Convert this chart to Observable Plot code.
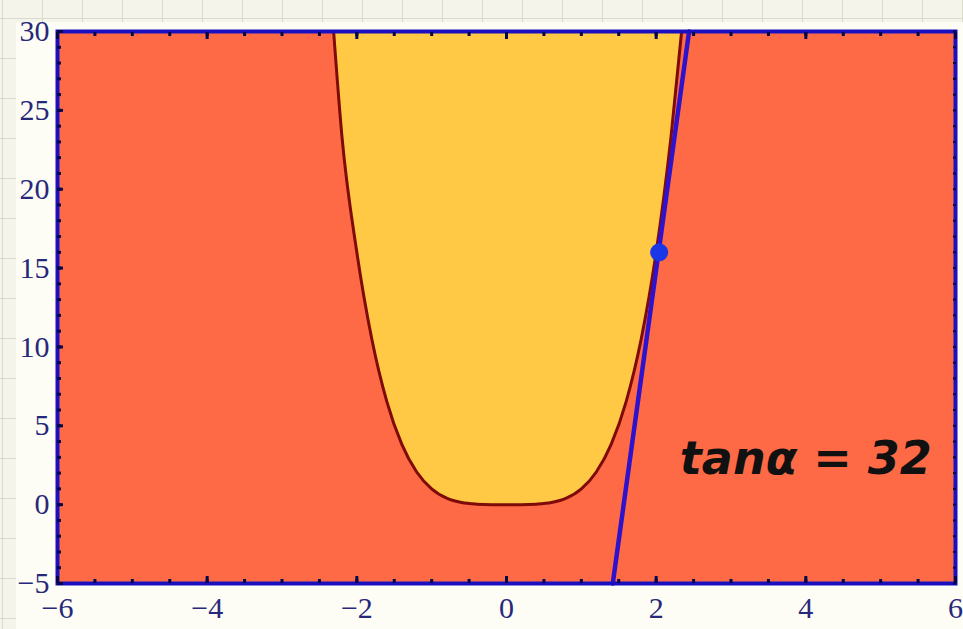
<!DOCTYPE html>
<html>
<head>
<meta charset="utf-8">
<script src="https://cdn.jsdelivr.net/npm/d3@7"></script>
<script src="https://cdn.jsdelivr.net/npm/@observablehq/plot@0.6"></script>
<style>
  html, body { margin: 0; padding: 0; }
  body {
    width: 963px; height: 629px; overflow: hidden; position: relative;
    background-color: #f4f4ea;
    background-image:
      linear-gradient(to right, #d9d9cc 1px, transparent 1px),
      linear-gradient(to bottom, #d9d9cc 1px, transparent 1px);
    background-size: 40px 40px;
    background-position: 2px 18px;
  }
  #sheet { position: absolute; left: 16px; top: 22px; right: 0; bottom: 0; background: #fdfdf6; }
  #chart { position: absolute; left: 0; top: 0; }
</style>
</head>
<body>
<div id="sheet"></div>
<div id="chart"></div>
<script>
// Curve (boundary of the yellow region)
const curveX = [-2.31, -2.2, -2.0, -1.8, -1.6, -1.4, -1.2, -1.0, -0.8, -0.6, -0.4, -0.2, 0, 0.2, 0.4, 0.6, 0.8, 1.0, 1.2, 1.4, 1.6, 1.8, 2.0, 2.2, 2.34];
const curveY = [30, 23.4, 16, 10.5, 6.55, 3.84, 2.07, 1.0, 0.41, 0.13, 0.03, 0.0, 0, 0.0, 0.03, 0.13, 0.41, 1.0, 2.07, 3.84, 6.55, 10.5, 16, 23.4, 30];
// Tangent line endpoints and touching point
const tangentX = [1.42, 2.44];
const tangentY = [-5, 30];
const pointX = [2.04];
const pointY = [16];
// Annotation
const labelText = ["tanα = 32"];
const labelX = [4.0];
const labelY = [2.9];
// Axis ticks
const xLabels = [-6, -4, -2, 0, 2, 4, 6];
const yLabels = [-5, 0, 5, 10, 15, 20, 25, 30];
const xMinor = d3.range(-6, 6.001, 0.5);
const yMinor = d3.range(-5, 30.001, 1);

const curve = curveX.map((x, i) => ({x, y: curveY[i]}));
const tangent = tangentX.map((x, i) => ({x, y: tangentY[i]}));
const point = pointX.map((x, i) => ({x, y: pointY[i]}));
const label = labelText.map((t, i) => ({t, x: labelX[i], y: labelY[i]}));

const orange = "#ff6a46";
const yellow = "#ffc945";
const tickColor = "#06064a";
const labelColor = "#28287a";
const blank = () => "";

const chart = Plot.plot({
  width: 963,
  height: 629,
  marginLeft: 57,
  marginRight: 8,
  marginTop: 31,
  marginBottom: 46,
  style: {background: "transparent", fontFamily: "'Liberation Serif', serif", fontSize: "30px", overflow: "visible"},
  x: {domain: [-6, 6]},
  y: {domain: [-5, 30]},
  marks: [
    Plot.frame({fill: orange, stroke: null}),
    Plot.areaY(curve, {x: "x", y1: "y", y2: 30, fill: yellow, curve: "monotone-x"}),
    Plot.line(curve, {x: "x", y: "y", stroke: "#7e0a0a", strokeWidth: 3, curve: "monotone-x"}),
    Plot.line(tangent, {x: "x", y: "y", stroke: "#2e12cc", strokeWidth: 4.5}),
    Plot.dot(point, {x: "x", y: "y", r: 9, fill: "#1a36e6", stroke: null}),
    Plot.text(label, {x: "x", y: "y", text: "t", fill: "#111", fontSize: 46, fontWeight: 600, fontFamily: "'DejaVu Sans', sans-serif", fontStyle: "italic"}),
    Plot.frame({stroke: "#1a10c0", strokeWidth: 4}),
    // minor ticks (inward)
    Plot.axisX({anchor: "bottom", ticks: xMinor, tickSize: -4, tickFormat: blank, stroke: tickColor, strokeWidth: 3, label: null}),
    Plot.axisX({anchor: "top", ticks: xMinor, tickSize: -4, tickFormat: blank, stroke: tickColor, strokeWidth: 3, label: null}),
    Plot.axisY({anchor: "left", ticks: yMinor, tickSize: -4, tickFormat: blank, stroke: tickColor, strokeWidth: 3, label: null}),
    Plot.axisY({anchor: "right", ticks: yMinor, tickSize: -3, tickFormat: blank, stroke: tickColor, strokeWidth: 2, label: null}),
    // major ticks
    Plot.axisX({anchor: "bottom", ticks: xLabels, tickSize: -7, tickFormat: blank, stroke: tickColor, strokeWidth: 3, label: null}),
    Plot.axisX({anchor: "top", ticks: xLabels, tickSize: -7, tickFormat: blank, stroke: tickColor, strokeWidth: 3, label: null}),
    Plot.axisY({anchor: "left", ticks: yLabels, tickSize: -6, tickFormat: blank, stroke: tickColor, strokeWidth: 3, label: null}),
    // labels
    Plot.axisX({anchor: "bottom", ticks: xLabels, tickSize: 0, tickPadding: 13, fill: labelColor, fontSize: 30, label: null}),
    Plot.axisY({anchor: "left", ticks: yLabels, tickSize: 0, tickPadding: 8, fill: labelColor, fontSize: 30, label: null})
  ]
});
document.getElementById("chart").appendChild(chart);
</script>
</body>
</html>
